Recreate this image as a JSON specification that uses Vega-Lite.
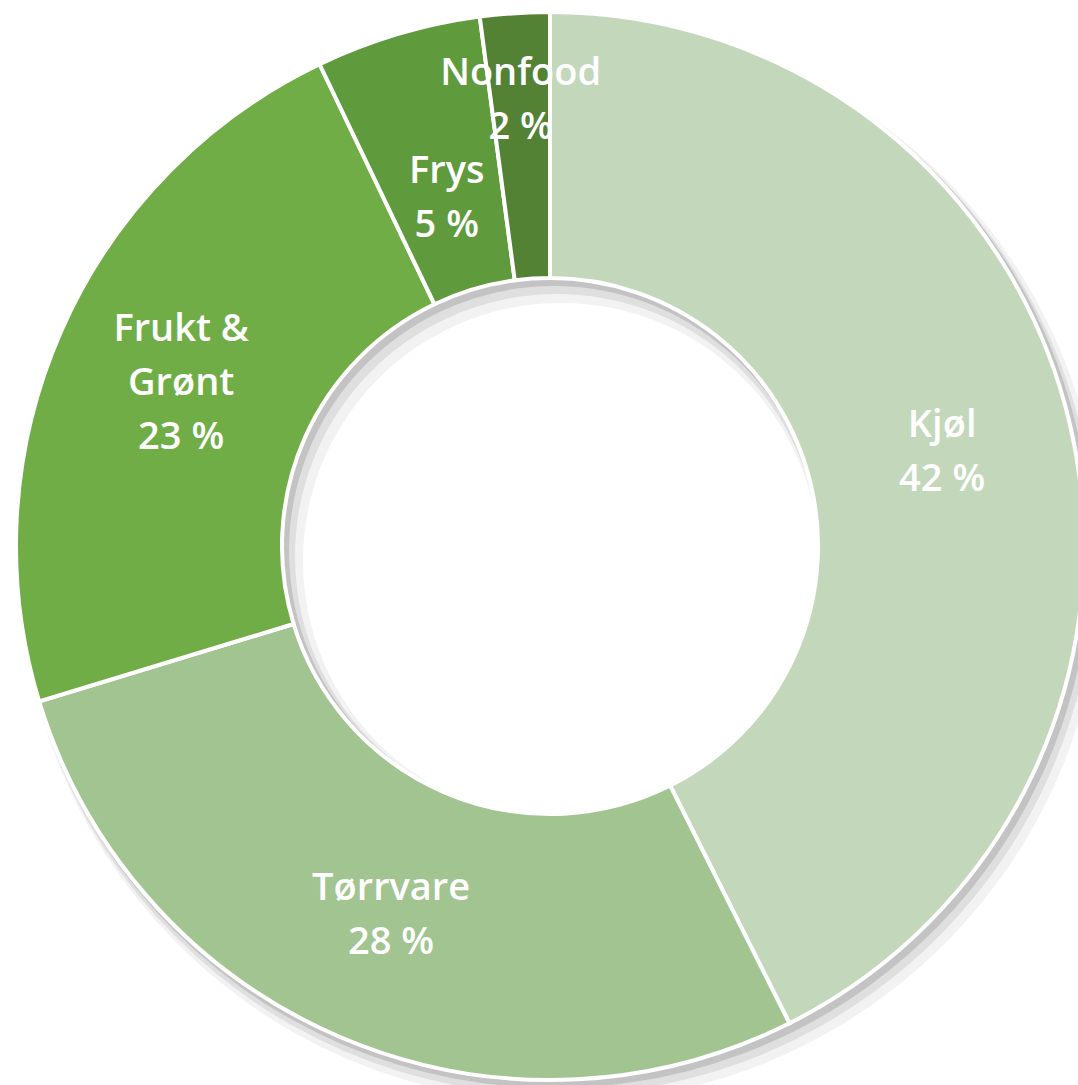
{
  "$schema": "https://vega.github.io/schema/vega-lite/v6.json",
  "width": 1056,
  "height": 1080,
  "padding": {"left": 22, "top": 6, "right": 0, "bottom": 0},
  "autosize": {"type": "none"},
  "background": "white",
  "view": {"stroke": null},
  "data": {
    "values": [
      {"kategori": "Kjøl", "andel": 42.6, "etikett": "Kjøl\n42 %"},
      {"kategori": "Tørrvare", "andel": 27.7, "etikett": "Tørrvare\n28 %"},
      {"kategori": "Frukt & Grønt", "andel": 22.6, "etikett": "Frukt &\nGrønt\n23 %"},
      {"kategori": "Frys", "andel": 5.0, "etikett": "Frys\n5 %"},
      {"kategori": "Nonfood", "andel": 2.1, "etikett": "Nonfood\n2 %"}
    ]
  },
  "encoding": {
    "theta": {"field": "andel", "type": "quantitative", "stack": true},
    "order": {"field": "andel", "sort": "descending"}
  },
  "layer": [
    {
      "mark": {"type": "arc", "innerRadius": 258, "outerRadius": 542, "color": "#000000", "opacity": 0.05, "xOffset": 11, "yOffset": 15},
      "encoding": {}
    },
    {
      "mark": {"type": "arc", "innerRadius": 262, "outerRadius": 539, "color": "#000000", "opacity": 0.08, "xOffset": 7, "yOffset": 10},
      "encoding": {}
    },
    {
      "mark": {"type": "arc", "innerRadius": 265, "outerRadius": 537, "color": "#000000", "opacity": 0.12, "xOffset": 4, "yOffset": 5},
      "encoding": {}
    },
    {
      "mark": {"type": "arc", "innerRadius": 268, "outerRadius": 534, "stroke": "white", "strokeWidth": 4},
      "encoding": {
        "color": {
          "field": "kategori",
          "type": "nominal",
          "scale": {
            "domain": ["Kjøl", "Tørrvare", "Frukt & Grønt", "Frys", "Nonfood"],
            "range": ["#c3d8bb", "#a2c490", "#70ad47", "#5f9a3d", "#548235"]
          },
          "legend": null
        }
      }
    },
    {
      "mark": {"type": "text", "radius": 403, "dy": -27, "fill": "white", "font": "Open Sans", "fontWeight": 600, "fontSize": 38, "lineHeight": 54, "lineBreak": "\n", "align": "center", "baseline": "middle"},
      "encoding": {
        "text": {"condition": {"test": "datum.kategori == 'Kjøl' || datum.kategori == 'Tørrvare'", "field": "etikett"}, "value": ""}
      }
    },
    {
      "mark": {"type": "text", "radius": 403, "dy": -54, "fill": "white", "font": "Open Sans", "fontWeight": 600, "fontSize": 38, "lineHeight": 54, "lineBreak": "\n", "align": "center", "baseline": "middle"},
      "encoding": {
        "text": {"condition": {"test": "datum.kategori == 'Frukt & Grønt'", "field": "etikett"}, "value": ""}
      }
    },
    {
      "mark": {"type": "text", "radius": 362, "dy": -27, "fill": "white", "font": "Open Sans", "fontWeight": 600, "fontSize": 38, "lineHeight": 54, "lineBreak": "\n", "align": "center", "baseline": "middle"},
      "encoding": {
        "text": {"condition": {"test": "datum.kategori == 'Frys'", "field": "etikett"}, "value": ""}
      }
    },
    {
      "mark": {"type": "text", "radius": 446, "dy": -27, "fill": "white", "font": "Open Sans", "fontWeight": 600, "fontSize": 38, "lineHeight": 54, "lineBreak": "\n", "align": "center", "baseline": "middle"},
      "encoding": {
        "text": {"condition": {"test": "datum.kategori == 'Nonfood'", "field": "etikett"}, "value": ""}
      }
    }
  ]
}
